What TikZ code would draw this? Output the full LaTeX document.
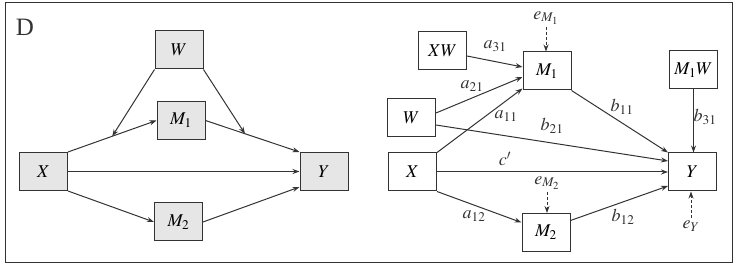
\documentclass[tikz,border=0pt]{standalone}
\usepackage{mathptmx}
\usepackage{fontspec}
\setmainfont{Liberation Serif}
\usetikzlibrary{arrows.meta,calc}
\definecolor{ln}{HTML}{333333}
\definecolor{bx}{HTML}{E6E6E6}
\tikzset{
  box/.style={draw=ln,line width=1pt,minimum width=48pt,minimum height=38pt,inner sep=0pt,font=\fontsize{18}{18}\selectfont},
  gbox/.style={box,fill=bx},
  arr/.style={draw=ln,line width=1pt,-{Stealth[length=7pt,width=5pt]}},
  darr/.style={arr,dash pattern=on 3pt off 2pt},
  lab/.style={inner sep=0pt,font=\fontsize{18}{18}\selectfont,text=ln}
}
\begin{document}
\begin{tikzpicture}[x=1pt,y=-1pt]
\useasboundingbox (0,0) rectangle (740,272);
\draw[ln,line width=1pt] (5,3) rectangle (732,263);
\node[lab,font=\fontsize{25}{25}\selectfont] (D) at (25,27) {D};
% left panel
\node[gbox] (lW) at (179,50) {$W$};
\node[gbox] (lM1) at (181,120.5) {$M_1$};
\node[gbox] (lX) at (43.5,171.5) {$X$};
\node[gbox] (lY) at (324,171.5) {$Y$};
\node[gbox] (lM2) at (178.5,222) {$M_2$};
\draw[arr] (lX.north east) -- (lM1.west);
\draw[arr] (lM1.east) -- (lY.north west);
\draw[arr] (lX.east) -- (lY.west);
\draw[arr] (lX.south east) -- (lM2.west);
\draw[arr] (lM2.east) -- ($(lY.south west)+(0,-4)$);
\coordinate (p1) at ($(lX.north east)!0.5!(lM1.west)$);
\coordinate (p2) at ($(lM1.east)!0.42!(lY.north west)$);
\draw[arr] (lW.south west) -- (p1);
\draw[arr] (lW.south east) -- (p2);
% right panel
\node[box] (rXW) at (442.5,51) {$XW$};
\node[box] (rM1) at (547,71) {$M_1$};
\node[box] (rM1W) at (693.5,70) {$M_1W$};
\node[box] (rW) at (411.5,118) {$W$};
\node[box] (rX) at (412.5,172) {$X$};
\node[box] (rY) at (692.5,172) {$Y$};
\node[box] (rM2) at (546,232.5) {$M_2$};
\node[lab] (eM1) at (546,18) {$e_{M_1}$};
\node[lab] (eM2) at (547,183) {$e_{M_2}$};
\node[lab] (eY) at (691,226) {$e_{Y}$};
\draw[arr] ($(rXW.east)+(0,5)$) -- ($(rM1.west)+(0,-4)$);
\draw[arr] ($(rW.east)+(0,-5)$) -- ($(rM1.west)+(0,6)$);
\draw[arr] (rX.north east) -- ($(rM1.south west)+(0,-2)$);
\draw[arr] ($(rW.east)+(0,7)$) -- ($(rY.west)+(0,-11)$);
\draw[arr] (rM1.south east) -- (rY.north west);
\draw[arr] (rM1W.south) -- (rY.north -| rM1W.south);
\draw[arr] (rX.east) -- (rY.west);
\draw[arr] (rX.south east) -- ($(rM2.west)+(0,-10)$);
\draw[arr] ($(rM2.east)+(0,-12)$) -- ($(rY.west)+(0,14)$);
\draw[darr] ([yshift=-2pt]eM1.south) -- (rM1.north -| eM1.south);
\draw[darr] ([yshift=-2pt]eM2.south) -- (rM2.north -| eM2.south);
\draw[darr] ([yshift=3pt]eY.north) -- (rY.south -| eY.north);
\node[lab] (la31) at (495,46) {$a_{31}$};
\node[lab] (la21) at (472,86) {$a_{21}$};
\node[lab] (la11) at (506,116) {$a_{11}$};
\node[lab] (lb21) at (552,126) {$b_{21}$};
\node[lab] (lb11) at (622,107) {$b_{11}$};
\node[lab] (lb31) at (705,117) {$b_{31}$};
\node[lab] (lc) at (505,159) {$c'$};
\node[lab] (la12) at (474,216) {$a_{12}$};
\node[lab] (lb12) at (623,217) {$b_{12}$};
\end{tikzpicture}
\end{document}
